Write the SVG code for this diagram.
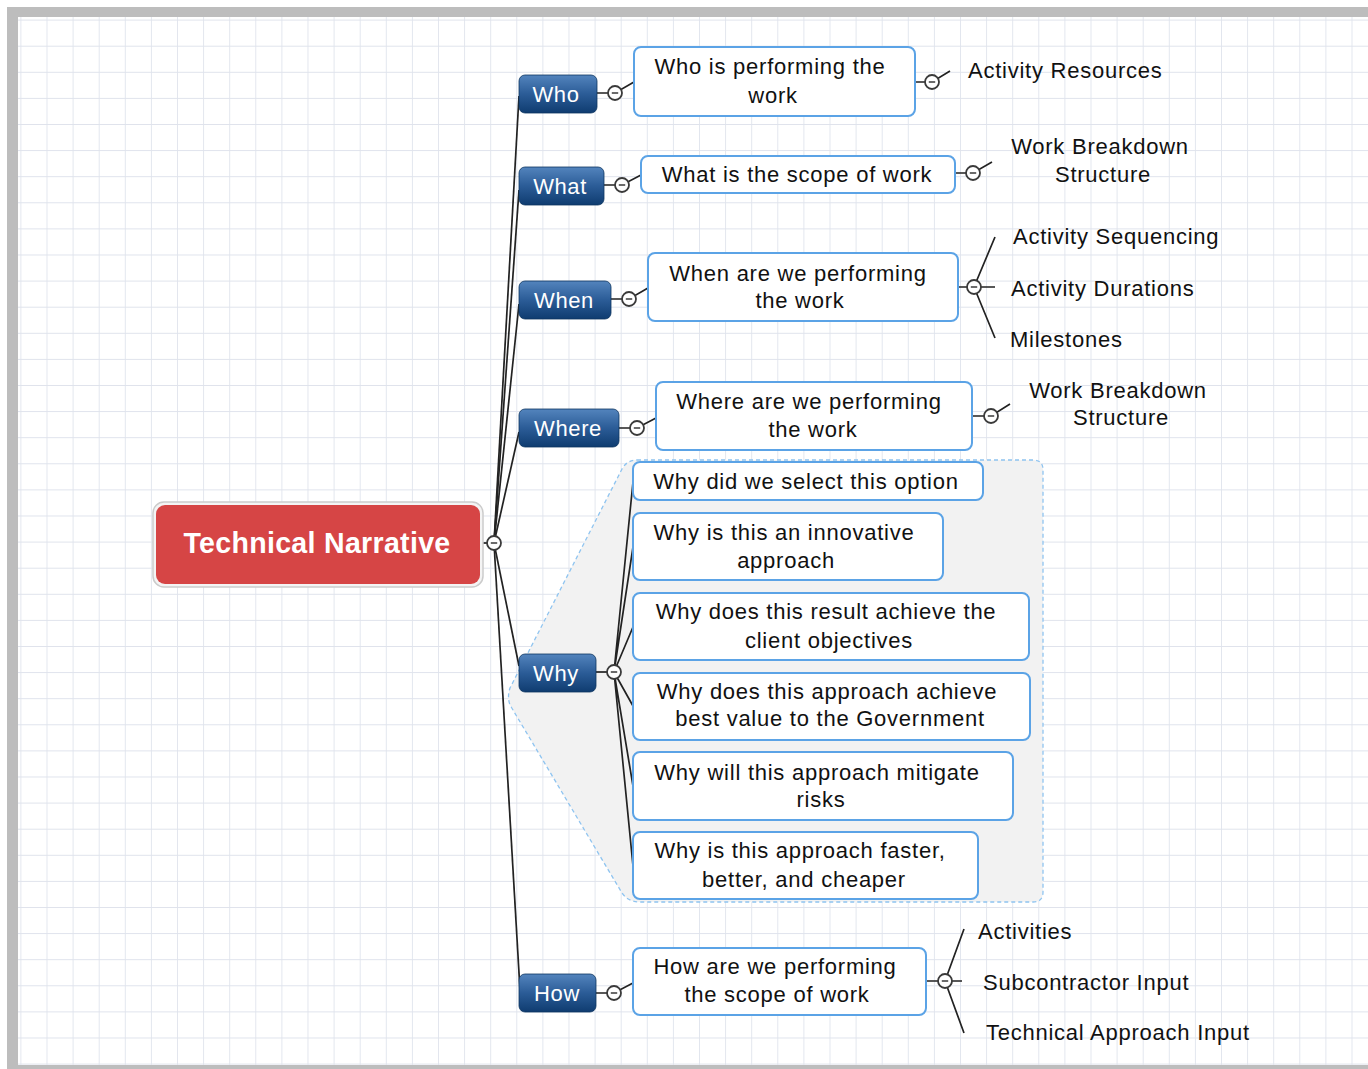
<svg xmlns="http://www.w3.org/2000/svg" width="1368" height="1069" viewBox="0 0 1368 1069">
<style>
.t{font-family:"Liberation Sans",Arial,sans-serif;font-size:22px;letter-spacing:0.75px;fill:#111}
.bt{font-family:"Liberation Sans",Arial,sans-serif;font-size:22px;letter-spacing:0.6px;fill:#fff;text-anchor:middle}
.root{font-family:"Liberation Sans",Arial,sans-serif;font-size:29px;font-weight:bold;fill:#fff;text-anchor:middle;letter-spacing:0.3px}
.m{text-anchor:middle}
.box{fill:#fff;stroke:#5ba3e6;stroke-width:2}
.blue{fill:url(#bg);stroke:#0d355f;stroke-width:0.8}
.ln{stroke:#222;stroke-width:1.7;fill:none}
.c{fill:#fff;stroke:#3a3a3a;stroke-width:1.8}
.cm{stroke:#3a3a3a;stroke-width:1.5}
</style>
<defs>
<linearGradient id="bg" x1="0" y1="0" x2="0" y2="1">
<stop offset="0" stop-color="#5384bd"/>
<stop offset="0.5" stop-color="#2b5c97"/>
<stop offset="1" stop-color="#0f3c70"/>
</linearGradient>
<pattern id="grid" patternUnits="userSpaceOnUse" x="46.5" y="19.6" width="26.1" height="26.1">
<path d="M0 0V26.1M0 0H26.1" stroke="#dfe3ec" stroke-width="1.7" fill="none"/>
</pattern>
<g id="col">
<circle class="c" cx="0" cy="0" r="7"/>
<line class="cm" x1="-3.2" y1="0" x2="3.2" y2="0"/>
</g>
</defs>
<rect x="0" y="0" width="1368" height="1069" fill="#fff"/>
<rect x="7" y="7" width="1361" height="1062" fill="#bdbdbd"/>
<rect x="18" y="17" width="1350" height="1048" fill="#fff"/>
<rect x="18" y="17" width="1350" height="1048" fill="url(#grid)"/>

<g id="why-group">
<path d="M637 460H1033Q1043 460 1043 470V892Q1043 902 1033 902H640Q628 902 622 893L510 705Q507 697 510 688L622 469Q627 460 637 460Z" fill="#f2f2f2" stroke="#8fc4f0" stroke-width="1.3" stroke-dasharray="4 3"/>
</g>

<g id="connectors">
<line class="ln" x1="494" y1="543" x2="519" y2="96"/>
<line class="ln" x1="494" y1="543" x2="519" y2="190"/>
<line class="ln" x1="494" y1="543" x2="519" y2="304"/>
<line class="ln" x1="494" y1="543" x2="519" y2="432"/>
<line class="ln" x1="494" y1="543" x2="519" y2="666"/>
<line class="ln" x1="494" y1="543" x2="520" y2="990"/>
<line class="ln" x1="483" y1="543" x2="494" y2="543"/>
<path class="ln" d="M597 93H615L634 82"/>
<path class="ln" d="M915 82H932L950 71"/>
<path class="ln" d="M604 185H622L641 175"/>
<path class="ln" d="M955 173H973L992 162"/>
<path class="ln" d="M611 299H629L648 288"/>
<path class="ln" d="M958 287H995M974 287L995 237M974 287L995 338"/>
<path class="ln" d="M619 428H637L656 418"/>
<path class="ln" d="M972 416H991L1010 404"/>
<path class="ln" d="M596 672H614"/>
<path class="ln" d="M614 672L633 482M614 672L633 547M614 672L633 627M614 672L633 706M614 672L633 786M614 672L633 866"/>
<path class="ln" d="M596 993H614L633 983"/>
<path class="ln" d="M926 981H962M945 981L964 929M945 981L964 1033"/>
<use href="#col" x="494" y="543"/>
<use href="#col" x="615" y="93"/>
<use href="#col" x="932" y="82"/>
<use href="#col" x="622" y="185"/>
<use href="#col" x="973" y="173"/>
<use href="#col" x="629" y="299"/>
<use href="#col" x="974" y="287"/>
<use href="#col" x="637" y="428"/>
<use href="#col" x="991" y="416"/>
<use href="#col" x="614" y="672"/>
<use href="#col" x="614" y="993"/>
<use href="#col" x="945" y="981"/>
</g>

<g id="root">
<rect x="153" y="502" width="330" height="85" rx="11" fill="#f4f4f4" stroke="#cbcbcb" stroke-width="1.5"/>
<rect x="156" y="505" width="324" height="79" rx="9" fill="#d64545"/>
<text class="root" x="317" y="553" textLength="267" lengthAdjust="spacingAndGlyphs">Technical Narrative</text>
</g>

<g id="who">
<rect class="blue" x="519" y="75" width="78" height="38" rx="6"/>
<text class="bt" x="556" y="102">Who</text>
</g>
<g id="who-detail">
<rect class="box" x="634" y="47" width="281" height="69" rx="7"/>
<text class="t m" x="770" y="74">Who is performing the</text>
<text class="t m" x="773" y="103">work</text>
</g>
<g id="activity-resources"><text class="t" x="968" y="78">Activity Resources</text></g>

<g id="what">
<rect class="blue" x="519" y="167" width="85" height="38" rx="6"/>
<text class="bt" x="560" y="194">What</text>
</g>
<g id="what-detail">
<rect class="box" x="641" y="156" width="314" height="37" rx="7"/>
<text class="t m" x="797" y="182">What is the scope of work</text>
</g>
<g id="wbs-1">
<text class="t m" x="1100" y="154">Work Breakdown</text>
<text class="t m" x="1103" y="182">Structure</text>
</g>

<g id="when">
<rect class="blue" x="519" y="281" width="92" height="38" rx="6"/>
<text class="bt" x="564" y="308">When</text>
</g>
<g id="when-detail">
<rect class="box" x="648" y="253" width="310" height="68" rx="7"/>
<text class="t m" x="798" y="281">When are we performing</text>
<text class="t m" x="800" y="308">the work</text>
</g>
<g id="activity-sequencing"><text class="t" x="1013" y="244">Activity Sequencing</text></g>
<g id="activity-durations"><text class="t" x="1011" y="296">Activity Durations</text></g>
<g id="milestones"><text class="t" x="1010" y="347">Milestones</text></g>

<g id="where">
<rect class="blue" x="519" y="409" width="100" height="38" rx="6"/>
<text class="bt" x="568" y="436">Where</text>
</g>
<g id="where-detail">
<rect class="box" x="656" y="382" width="316" height="68" rx="7"/>
<text class="t m" x="809" y="409">Where are we performing</text>
<text class="t m" x="813" y="437">the work</text>
</g>
<g id="wbs-2">
<text class="t m" x="1118" y="398">Work Breakdown</text>
<text class="t m" x="1121" y="425">Structure</text>
</g>

<g id="why">
<rect class="blue" x="519" y="654" width="77" height="38" rx="6"/>
<text class="bt" x="556" y="681">Why</text>
</g>
<g id="why-1">
<rect class="box" x="633" y="462" width="350" height="38" rx="7"/>
<text class="t m" x="806" y="489">Why did we select this option</text>
</g>
<g id="why-2">
<rect class="box" x="633" y="513" width="310" height="67" rx="7"/>
<text class="t m" x="784" y="540">Why is this an innovative</text>
<text class="t m" x="786" y="568">approach</text>
</g>
<g id="why-3">
<rect class="box" x="633" y="593" width="396" height="67" rx="7"/>
<text class="t m" x="826" y="619">Why does this result achieve the</text>
<text class="t m" x="829" y="648">client objectives</text>
</g>
<g id="why-4">
<rect class="box" x="633" y="673" width="397" height="67" rx="7"/>
<text class="t m" x="827" y="699">Why does this approach achieve</text>
<text class="t m" x="830" y="726">best value to the Government</text>
</g>
<g id="why-5">
<rect class="box" x="633" y="752" width="380" height="68" rx="7"/>
<text class="t m" x="817" y="780">Why will this approach mitigate</text>
<text class="t m" x="821" y="807">risks</text>
</g>
<g id="why-6">
<rect class="box" x="633" y="832" width="345" height="67" rx="7"/>
<text class="t m" x="800" y="858">Why is this approach faster,</text>
<text class="t m" x="804" y="887">better, and cheaper</text>
</g>

<g id="how">
<rect class="blue" x="519" y="974" width="77" height="38" rx="6"/>
<text class="bt" x="557" y="1001">How</text>
</g>
<g id="how-detail">
<rect class="box" x="633" y="948" width="293" height="67" rx="7"/>
<text class="t m" x="775" y="974">How are we performing</text>
<text class="t m" x="777" y="1002">the scope of work</text>
</g>
<g id="activities"><text class="t" x="978" y="939">Activities</text></g>
<g id="subcontractor-input"><text class="t" x="983" y="990">Subcontractor Input</text></g>
<g id="technical-approach-input"><text class="t" x="986" y="1040">Technical Approach Input</text></g>
</svg>
